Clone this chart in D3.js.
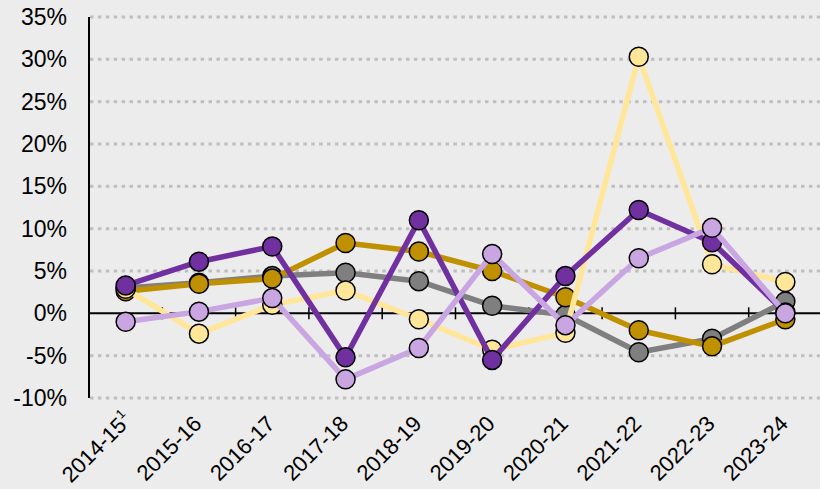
<!DOCTYPE html>
<html>
<head>
<meta charset="utf-8">
<script src="https://cdn.jsdelivr.net/npm/d3@7"></script>
<style>
  html, body { margin: 0; padding: 0; background: #ececec; }
  svg { display: block; font-family: "Liberation Sans", Arial, sans-serif; }
</style>
</head>
<body>
<svg id="chart" width="820" height="489"></svg>
<script>
// Year-on-year change (%) by financial year
const categories = ["2014-15", "2015-16", "2016-17", "2017-18", "2018-19", "2019-20", "2020-21", "2021-22", "2022-23", "2023-24"];
const yTicks = [-10, -5, 0, 5, 10, 15, 20, 25, 30, 35];

const seriesGray       = [3.0, 3.6, 4.4, 4.8, 3.8, 0.9, -0.2, -4.6, -3.0, 1.4];
const seriesGold       = [2.6, 3.5, 4.1, 8.3, 7.3, 5.0, 1.9, -2.0, -3.9, -0.7];
const seriesPaleYellow = [2.9, -2.4, 1.0, 2.7, -0.7, -4.3, -2.3, 30.3, 5.8, 3.7];
const seriesPurple     = [3.3, 6.1, 7.9, -5.2, 11.0, -5.5, 4.4, 12.2, 8.4, 0.1];
const seriesLilac      = [-1.0, 0.2, 1.8, -7.8, -4.1, 7.0, -1.4, 6.5, 10.1, 0.0];

const seriesList = [
  { values: seriesGray,       color: "#7f7f7f" },
  { values: seriesGold,       color: "#bf9000" },
  { values: seriesPaleYellow, color: "#ffe699" },
  { values: seriesPurple,     color: "#7030a0" },
  { values: seriesLilac,      color: "#c9a6e2" }
];

const svg = d3.select("#chart");
const plotLeft = 89, plotRight = 822, plotTop = 17, plotBottom = 398;

const x = d3.scaleBand().domain(categories).range([plotLeft, plotRight]).padding(0);
const y = d3.scaleLinear().domain([-10, 35]).range([plotBottom, plotTop]);
const cx = d => x(d) + x.bandwidth() / 2;

// Dotted horizontal gridlines
svg.append("g")
  .selectAll("line")
  .data(yTicks.filter(t => t !== 0))
  .join("line")
  .attr("x1", plotLeft + 1).attr("x2", 820)
  .attr("y1", d => y(d)).attr("y2", d => y(d))
  .attr("stroke", "#bfbfbf")
  .attr("stroke-width", 3)
  .attr("stroke-dasharray", "3.5,4.4");

// Y axis (labels only, with a vertical rule)
const yAxis = d3.axisLeft(y).tickValues(yTicks).tickFormat(d => d + "%").tickSize(0).tickPadding(22);
const gy = svg.append("g").attr("transform", `translate(${plotLeft},0)`).call(yAxis);
gy.select(".domain").remove();
gy.selectAll("text")
  .attr("font-size", 23)
  .attr("fill", "#000")
  .attr("font-family", "Liberation Sans, Arial, sans-serif");
svg.append("line")
  .attr("x1", plotLeft).attr("x2", plotLeft)
  .attr("y1", y(35)).attr("y2", y(-10))
  .attr("stroke", "#000").attr("stroke-width", 2);

// Zero baseline with category boundary ticks
const y0 = y(0);
svg.append("line")
  .attr("x1", plotLeft).attr("x2", 820)
  .attr("y1", y0).attr("y2", y0)
  .attr("stroke", "#000").attr("stroke-width", 2);
svg.append("g")
  .selectAll("line")
  .data(categories.slice(1))
  .join("line")
  .attr("x1", d => x(d)).attr("x2", d => x(d))
  .attr("y1", y0 - 6).attr("y2", y0 + 6)
  .attr("stroke", "#000").attr("stroke-width", 1.5);

// Rotated category labels (the first carries a footnote marker)
const labels = svg.append("g")
  .selectAll("text")
  .data(categories)
  .join("text")
  .attr("transform", (d, i) => i === 0
    ? `translate(${cx(d) + 7.5},${y(-10) + 23.5}) rotate(-45)`
    : `translate(${cx(d) + 4},${y(-10) + 27}) rotate(-45)`)
  .attr("text-anchor", "end")
  .attr("font-size", 22)
  .attr("fill", "#000");
labels.append("tspan").text(d => d);
labels.filter((d, i) => i === 0)
  .append("tspan")
  .attr("font-size", 13)
  .attr("dy", -10)
  .text("1");

// Series: line then markers
const line = d3.line().x((d, i) => cx(categories[i])).y(d => y(d));
seriesList.forEach(s => {
  const g = svg.append("g");
  g.append("path")
    .datum(s.values)
    .attr("d", line)
    .attr("fill", "none")
    .attr("stroke", s.color)
    .attr("stroke-width", 5.5)
    .attr("stroke-linejoin", "round");
  g.selectAll("circle")
    .data(s.values)
    .join("circle")
    .attr("cx", (d, i) => cx(categories[i]))
    .attr("cy", d => y(d))
    .attr("r", 9.5)
    .attr("fill", s.color)
    .attr("stroke", "#000")
    .attr("stroke-width", 1.5);
});
</script>
</body>
</html>
